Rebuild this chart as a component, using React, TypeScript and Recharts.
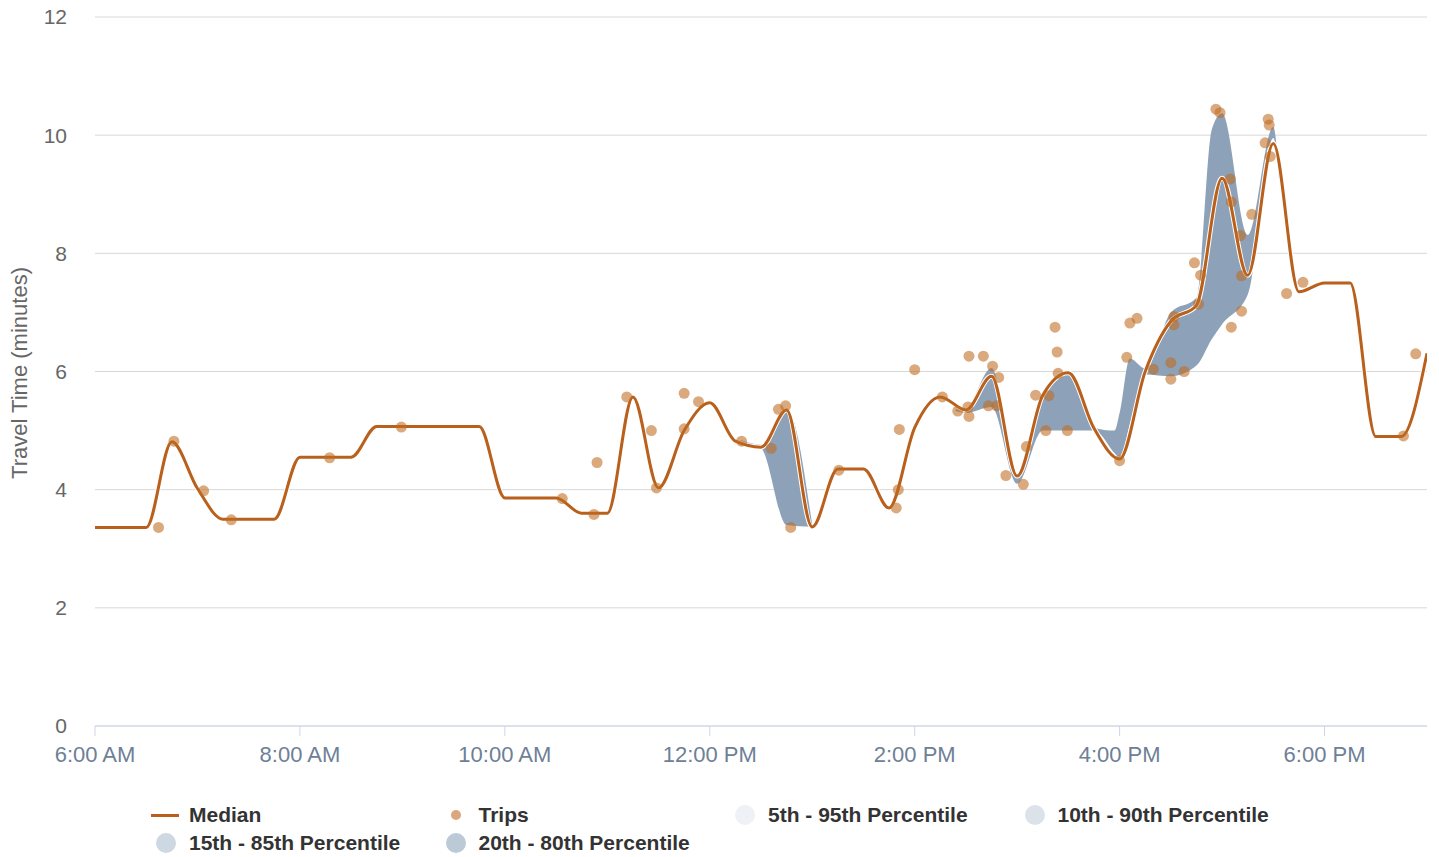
import { ComposedChart, Line, Area, Scatter, XAxis, YAxis, CartesianGrid } from 'recharts';

// time of day in hours (6 = 6:00 AM)
const medianTimes = [
  6, 6.25, 6.5, 6.75, 7, 7.25, 7.5, 7.75, 8, 8.25, 8.5, 8.75, 9, 9.25, 9.5, 9.75,
  10, 10.25, 10.5, 10.75, 11, 11.25, 11.5, 11.75, 12, 12.25, 12.5, 12.75, 13, 13.25, 13.5, 13.75,
  14, 14.25, 14.5, 14.75, 15, 15.25, 15.5, 15.75, 16, 16.25, 16.5, 16.75, 17, 17.25, 17.5, 17.75,
  18, 18.25, 18.5, 18.75, 19,
];
const medianValues = [
  3.36, 3.36, 3.36, 4.81, 4.02, 3.5, 3.5, 3.5, 4.55, 4.55, 4.55, 5.07, 5.07, 5.07, 5.07, 5.07,
  3.86, 3.86, 3.86, 3.6, 3.6, 5.57, 4.03, 5.0, 5.47, 4.82, 4.72, 5.35, 3.37, 4.35, 4.35, 3.69,
  5.05, 5.57, 5.35, 5.92, 4.23, 5.6, 5.98, 5.04, 4.52, 6.0, 6.85, 7.12, 9.27, 7.63, 9.86, 7.35,
  7.5, 7.5, 4.9, 4.9, 6.31,
];

// 20th - 80th percentile band (null = gap)
const bandTimes = [12.3, 12.5, 12.75, 13.0, 13.7, 14.4, 14.5, 14.75, 15.0, 15.25, 15.5, 15.75, 15.95, 16.0, 16.1, 16.25, 16.5, 16.75, 16.9, 17.0, 17.25, 17.5, 17.56];
const bandLow = [4.8, 4.7, 3.4, 3.37, null, 5.33, 5.3, 5.4, 4.1, 5.0, 5.0, 5.0, 4.62, 4.52, 5.1, 5.95, 5.92, 6.1, 6.55, 6.8, 7.3, 9.95, 9.2];
const bandHigh = [4.84, 4.76, 5.38, 3.4, null, 5.36, 5.38, 6.06, 4.25, 5.6, 6.0, 5.05, 5.0, 5.3, 6.22, 6.05, 7.0, 7.25, 10.1, 10.37, 8.31, 10.14, 9.25];

const tripTimes = [
  6.62, 6.77, 7.06, 7.33, 8.29, 8.99, 10.56, 10.87, 10.9, 11.19, 11.43, 11.48, 11.75, 11.89, 11.75,
  12.31, 12.6, 12.67, 12.74, 12.79, 13.26, 13.82, 13.84, 13.85, 14.0, 14.27, 14.42, 14.53, 14.53, 14.52,
  14.67, 14.76, 14.72, 14.8, 14.82, 14.89, 15.06, 15.09, 15.18, 15.31, 15.28, 15.37, 15.39, 15.4, 15.49,
  16.0, 16.07, 16.1, 16.17, 16.33, 16.5, 16.5, 16.53, 16.53, 16.63, 16.77, 16.73, 16.79, 17.09, 17.19,
  17.19, 17.18, 17.08, 17.09, 17.29, 16.94, 16.98, 17.45, 17.46, 17.42, 17.47, 17.63, 17.79, 18.77, 18.89,
];
const tripValues = [
  3.36, 4.82, 3.98, 3.49, 4.54, 5.06, 3.85, 3.58, 4.46, 5.57, 5.0, 4.03, 5.63, 5.49, 5.03,
  4.82, 4.7, 5.36, 5.42, 3.36, 4.33, 3.69, 4.0, 5.02, 6.03, 5.57, 5.33, 6.26, 5.24, 5.4,
  6.26, 6.09, 5.42, 5.42, 5.9, 4.24, 4.09, 4.73, 5.6, 5.59, 5.0, 6.75, 6.33, 5.97, 5.0,
  4.49, 6.24, 6.82, 6.9, 6.04, 6.15, 5.87, 6.93, 6.79, 6.0, 7.14, 7.84, 7.63, 6.75, 7.02,
  7.62, 8.3, 9.26, 8.87, 8.66, 10.44, 10.38, 10.27, 10.17, 9.87, 9.64, 7.32, 7.51, 4.91, 6.3,
];

const xTicks = [6, 8, 10, 12, 14, 16, 18];
const xTickLabels = ['6:00 AM', '8:00 AM', '10:00 AM', '12:00 PM', '2:00 PM', '4:00 PM', '6:00 PM'];
const yTicks = [0, 2, 4, 6, 8, 10, 12];

const legendItems = [
  { name: 'Median', kind: 'line', color: '#b8601c' },
  { name: 'Trips', kind: 'dot', color: '#dca77c' },
  { name: '5th - 95th Percentile', kind: 'circle', color: '#eef1f5' },
  { name: '10th - 90th Percentile', kind: 'circle', color: '#dce2ea' },
  { name: '15th - 85th Percentile', kind: 'circle', color: '#ced8e2' },
  { name: '20th - 80th Percentile', kind: 'circle', color: '#bccad7' },
];

const medianData = medianTimes.map((t, i) => ({ t, median: medianValues[i] }));
const bandData = bandTimes.map((t, i) =>
  ({ t, band: bandLow[i] == null ? null : [bandLow[i], bandHigh[i]] }));
const tripData = tripTimes.map((t, i) => ({ t, v: tripValues[i] }));

const FONT = '"Liberation Sans", Arial, sans-serif';

const TripDot = (props: any) => (
  <circle cx={props.cx} cy={props.cy} r={5.5} fill="#c06b20" fillOpacity={0.58} />
);

export default function App() {
  return (
    <div style={{ position: 'absolute', left: 0, top: 0, width: 1439, height: 857, fontFamily: FONT }}>
      <ComposedChart width={1439} height={857} margin={{ top: 17, right: 12, bottom: 91, left: 0 }}>
        <CartesianGrid vertical={false} stroke="#d8d8d8" />
        <XAxis
          type="number"
          dataKey="t"
          domain={[6, 19]}
          ticks={xTicks}
          allowDataOverflow
          height={40}
          stroke="#ccd6eb"
          tickSize={10}
          tickMargin={10}
          tickFormatter={(v: number) => xTickLabels[xTicks.indexOf(v)]}
          tick={{ fill: '#6e8096', fontSize: 22, fontFamily: FONT }}
        />
        <YAxis
          type="number"
          domain={[0, 12]}
          ticks={yTicks}
          allowDataOverflow
          width={95}
          axisLine={false}
          tickLine={false}
          tickSize={0}
          tickMargin={28}
          tick={{ fill: '#666666', fontSize: 21, fontFamily: FONT }}
          label={{
            content: () => (
              <text x={19} y={373} transform="rotate(-90 19 373)" textAnchor="middle"
                dominantBaseline="central" fill="#666666" fontSize={22} fontFamily={FONT}>
                Travel Time (minutes)
              </text>
            ),
          }}
        />
        <Area
          data={bandData}
          dataKey="band"
          type="monotone"
          stroke="none"
          fill="#8da2b8"
          fillOpacity={1}
          connectNulls={false}
          isAnimationActive={false}
        />
        <Line data={medianData} dataKey="median" type="monotone" stroke="#ffffff" strokeWidth={5}
          dot={false} activeDot={false} isAnimationActive={false} />
        <Line data={medianData} dataKey="median" type="monotone" stroke="#b8601c" strokeWidth={3}
          dot={false} activeDot={false} isAnimationActive={false} />
        <Scatter data={tripData} dataKey="v" shape={TripDot} isAnimationActive={false} />
      </ComposedChart>

      {legendItems.map((item, i) => {
        const col = i < 4 ? i : i - 4;
        const row = i < 4 ? 0 : 1;
        const x = 151 + col * 289.5;
        const y = 815 + row * 28;
        return (
          <div key={item.name} style={{ position: 'absolute', left: x, top: y - 14, height: 28, display: 'flex', alignItems: 'center' }}>
            <div style={{ width: 30, display: 'flex', justifyContent: 'center', alignItems: 'center' }}>
              {item.kind === 'line' && <div style={{ width: 28, height: 3, background: item.color, marginLeft: -2 }} />}
              {item.kind === 'dot' && <div style={{ width: 10, height: 10, borderRadius: 5, background: item.color }} />}
              {item.kind === 'circle' && <div style={{ width: 20, height: 20, borderRadius: '50%', background: item.color }} />}
            </div>
            <span style={{ marginLeft: 8, fontWeight: 'bold', fontSize: 21, color: '#333333', fontFamily: FONT, whiteSpace: 'nowrap' }}>
              {item.name}
            </span>
          </div>
        );
      })}
    </div>
  );
}
